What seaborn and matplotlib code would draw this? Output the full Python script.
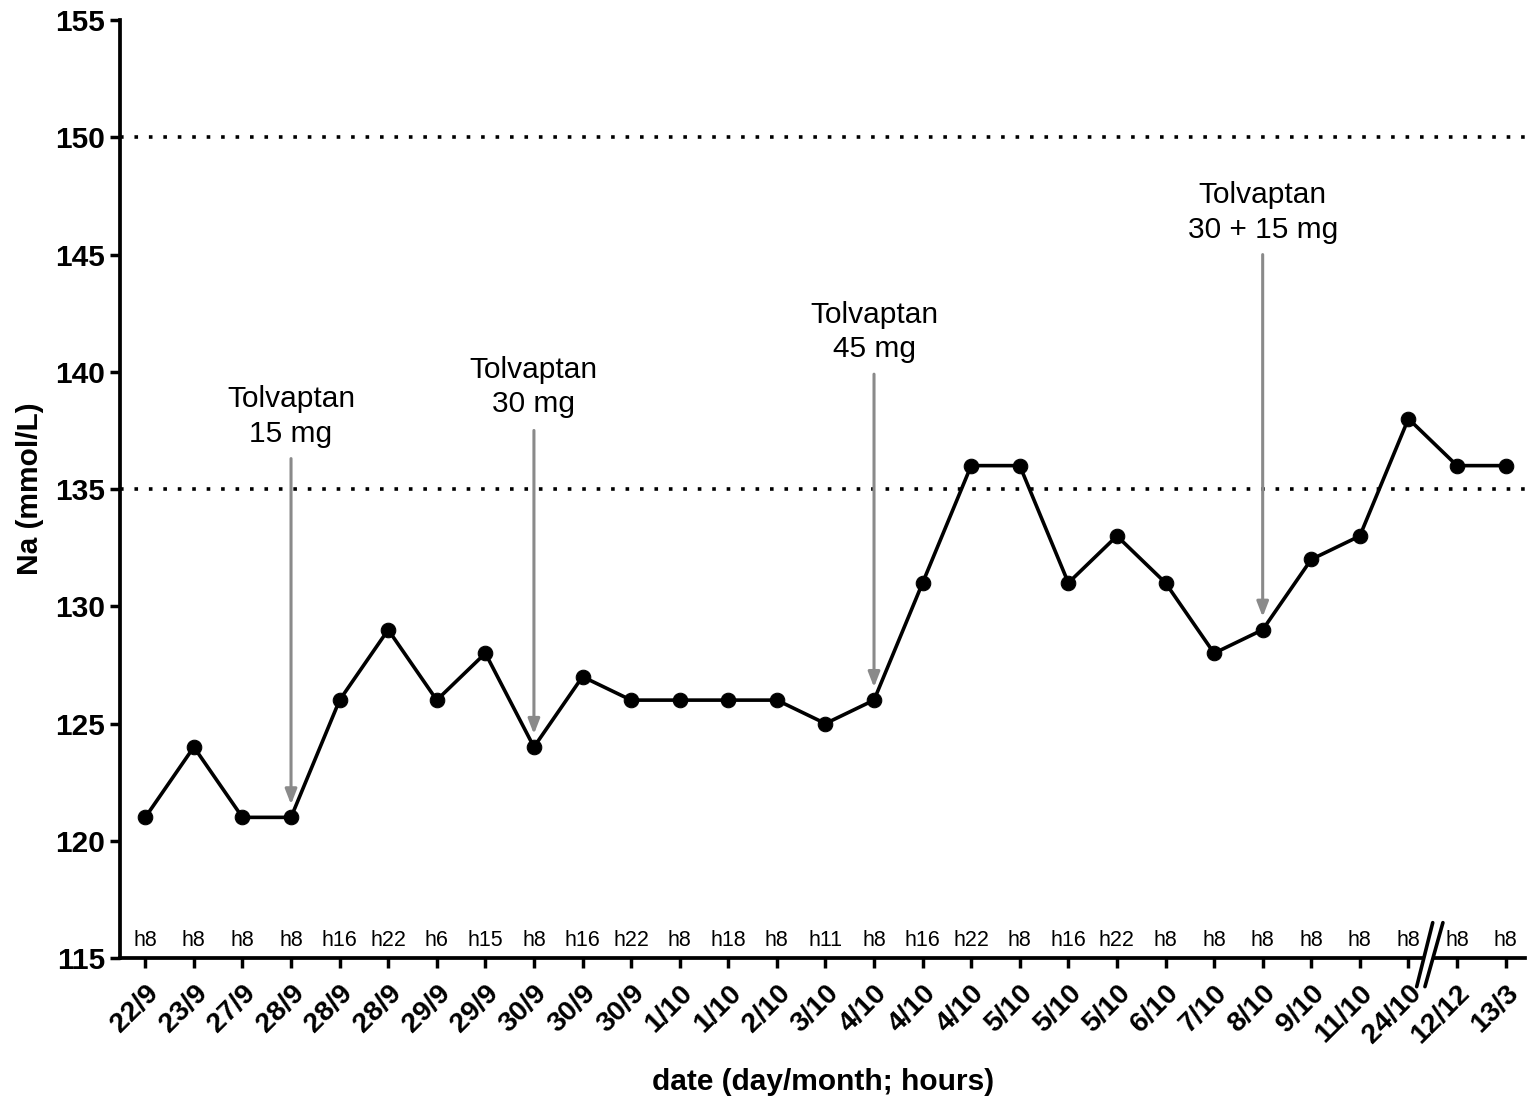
import matplotlib
matplotlib.use("Agg")
import matplotlib.pyplot as plt
import seaborn as sns
import pandas as pd
import numpy as np

dates = ["22/9", "23/9", "27/9", "28/9", "28/9", "28/9", "29/9", "29/9", "30/9", "30/9",
         "30/9", "1/10", "1/10", "2/10", "3/10", "4/10", "4/10", "4/10", "5/10", "5/10",
         "5/10", "6/10", "7/10", "8/10", "9/10", "11/10", "24/10", "12/12", "13/3"]
hours = ["h8", "h8", "h8", "h8", "h16", "h22", "h6", "h15", "h8", "h16",
         "h22", "h8", "h18", "h8", "h11", "h8", "h16", "h22", "h8", "h16",
         "h22", "h8", "h8", "h8", "h8", "h8", "h8", "h8", "h8"]
sodium = [121, 124, 121, 121, 126, 129, 126, 128, 124, 127,
          126, 126, 126, 126, 125, 126, 131, 136, 136, 131,
          133, 131, 128, 129, 132, 133, 138, 136, 136]
ref_lines = [150, 135]
dose_index = [3, 8, 15, 23]
dose_text = ["Tolvaptan\n15 mg", "Tolvaptan\n30 mg", "Tolvaptan\n45 mg", "Tolvaptan\n30 + 15 mg"]
arrow_top = [136.3, 137.5, 139.9, 145.0]
text_y = [138.1, 139.35, 141.7, 146.8]

sns.set_style("ticks")
plt.rcParams['font.family'] = ['Liberation Sans', 'DejaVu Sans']
plt.rcParams['text.color'] = 'black'
plt.rcParams['axes.labelcolor'] = 'black'
plt.rcParams['xtick.color'] = 'black'
plt.rcParams['ytick.color'] = 'black'
plt.rcParams['axes.edgecolor'] = 'black'

df = pd.DataFrame({"pos": np.arange(len(sodium)), "Na": sodium})

fig = plt.figure(figsize=(15.35, 11.17), dpi=100)
ax = fig.add_axes([0.0785, 0.1423, 0.915, 0.8397])

for r in ref_lines:
    ax.axhline(r, color="black", linestyle=(0, (1, 3.0)), linewidth=2.6, zorder=1)

sns.lineplot(data=df, x="pos", y="Na", ax=ax, color="black", linewidth=2.6,
             marker="o", markersize=10.5, markeredgecolor="black", zorder=3)

for i, t, at, ty in zip(dose_index, dose_text, arrow_top, text_y):
    ax.annotate("", xy=(i, sodium[i] + 0.55), xytext=(i, at),
                arrowprops=dict(arrowstyle="-|>,head_length=0.9,head_width=0.35",
                                color="#8a8a8a", lw=2.2, shrinkA=0, shrinkB=0), zorder=2)
    ax.text(i, ty, t, ha="center", va="center", fontsize=21.5, linespacing=1.3)

for i, h in enumerate(hours):
    ax.text(i, 115.75, h, ha="center", va="center", fontsize=15.5)

ax.set_xlim(-0.51, 28.4)
ax.set_ylim(115, 155)
ax.set_yticks(np.arange(115, 156, 5))
ax.set_xticks(np.arange(len(dates)))
ax.set_xticklabels(dates, rotation=45, ha="right", rotation_mode="anchor",
                   fontsize=20.5, fontweight="bold")
for lab in ax.get_yticklabels():
    lab.set_fontsize(21.5)
    lab.set_fontweight("bold")
ax.tick_params(axis="both", width=2.5, length=7, direction="out", pad=4)
ax.tick_params(axis="x", pad=9)
for s in ["left", "bottom"]:
    ax.spines[s].set_linewidth(2.7)
sns.despine(ax=ax)

ax.set_ylabel("Na (mmol/L)", fontsize=21.5, fontweight="bold", labelpad=8)
ax.set_xlabel("date (day/month; hours)", fontsize=21.5, fontweight="bold", labelpad=14)

# axis break marks
ax.fill([26.17, 26.34, 26.71, 26.5], [113.78, 113.78, 116.51, 116.51], color="white",
        clip_on=False, zorder=5, lw=0)
ax.plot([26.17, 26.5], [113.78, 116.51], color="black", lw=2.6, clip_on=False, zorder=6)
ax.plot([26.34, 26.71], [113.78, 116.51], color="black", lw=2.6, clip_on=False, zorder=6)

fig.savefig("out.png", dpi=100)
